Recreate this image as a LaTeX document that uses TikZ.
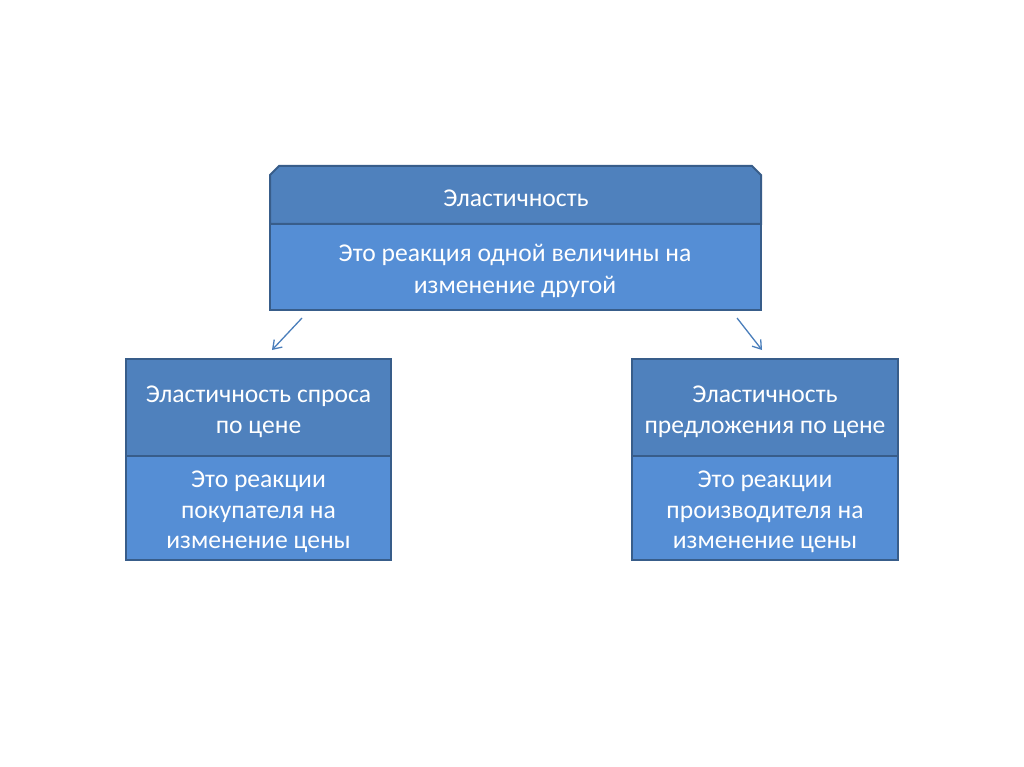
\documentclass[tikz,border=0pt]{standalone}
\usepackage{fontspec}
\setmainfont{Carlito}
\usetikzlibrary{arrows.meta}
\definecolor{hdr}{HTML}{4F81BD}
\definecolor{bdy}{HTML}{558ED5}
\definecolor{edge}{HTML}{385D8A}
\definecolor{arr}{HTML}{4A7EBB}
\tikzset{
  hdrbox/.style={fill=hdr,draw=edge,line width=2pt},
  bdybox/.style={fill=bdy,draw=edge,line width=2pt},
  txt/.style={text=white,font=\fontsize{25.6}{30.5}\selectfont,align=center,inner sep=0pt},
  conn/.style={draw=arr,line width=1.3pt,-{Straight Barb[length=8pt,width=11pt]}}
}
\begin{document}
\begin{tikzpicture}[x=1pt,y=-1pt]
\useasboundingbox[fill=white] (0,0) rectangle (1024,767);
% top box
\path[hdrbox] (270,224) -- (270,175) -- (279,166) -- (752,166) -- (761,175) -- (761,224) -- cycle;
\path[bdybox] (270,224) rectangle (761,310);
\node[txt] (toph) at (516,198) {Эластичность};
\node[txt,font=\fontsize{25.6}{32}\selectfont] (topb) at (515,271) {Это реакция одной величины на\\изменение другой};
% left box
\path[hdrbox] (126,359) rectangle (391,456);
\path[bdybox] (126,456) rectangle (391,560);
\node[txt] (lh) at (258.5,412) {Эластичность спроса\\по цене};
\node[txt] (lb) at (258.5,512) {Это реакции\\покупателя на\\изменение цены};
% right box
\path[hdrbox] (632,359) rectangle (898,456);
\path[bdybox] (632,456) rectangle (898,560);
\node[txt] (rh) at (765,412) {Эластичность\\предложения по цене};
\node[txt] (rb) at (765,512) {Это реакции\\производителя на\\изменение цены};
% arrows
\coordinate (a1s) at (302,318);
\coordinate (a1e) at (272,350);
\coordinate (a2s) at (737,318);
\coordinate (a2e) at (762,350);
\draw[conn] (a1s) -- (a1e);
\draw[conn] (a2s) -- (a2e);
\end{tikzpicture}
\end{document}
